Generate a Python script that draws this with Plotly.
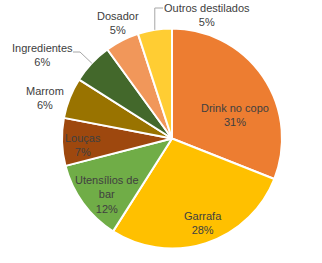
import math
import plotly.graph_objects as go

categories = ["Drink no copo", "Garrafa", "Utensílios de bar", "Louças", "Marrom",
              "Ingredientes", "Dosador", "Outros destilados"]
values = [31, 28, 12, 7, 6, 6, 5, 5]

colors = ["#ED7D31", "#FFC000", "#70AD47", "#9E480E", "#997300", "#43682B", "#F1975A", "#FFCD33"]
display_labels = ["Drink no copo", "Garrafa", "Utensílios de<br>bar", "Louças", "Marrom",
                  "Ingredientes", "Dosador", "Outros destilados"]
# label centre positions (pixels) - style only
label_pos = [(235, 115.5), (203, 222.5), (107, 194), (83, 144.5), (45, 97.5),
             (42, 55.5), (118, 22.5), (207, 15)]

W, H = 322, 263
CX, CY, R = 172, 138.5, 110


def px(x):
    return x / W


def py(y):
    return 1 - y / H


fig = go.Figure(go.Pie(
    labels=categories, values=values, sort=False, direction="clockwise", rotation=0,
    marker=dict(colors=colors, line=dict(color="white", width=2)),
    textinfo="none", hoverinfo="label+percent",
    domain=dict(x=[px(CX - R), px(CX + R)], y=[py(CY + R), py(CY - R)]),
))

total = sum(values)
annotations = []
for lab, v, (lx, ly) in zip(display_labels, values, label_pos):
    annotations.append(dict(
        x=px(lx), y=py(ly), xref="paper", yref="paper", showarrow=False,
        text=f"{lab}<br>{round(100 * v / total)}%", xanchor="center", yanchor="middle",
        font=dict(family="Liberation Sans, Arial, sans-serif", size=11, color="#404040"),
    ))

# leader lines from slice edge (mid angle) for two outside labels
cum = 0
mids = []
for v in values:
    mids.append((cum + v / 2) / total * 360)
    cum += v


def edge(i):
    t = math.radians(mids[i])
    return CX + R * math.sin(t), CY - R * math.cos(t)


shapes = []
ex, ey = edge(7)
shapes.append(dict(type="path", xref="paper", yref="paper",
                   path=f"M {px(ex)} {py(ey)} L {px(ex)} {py(8)} L {px(163)} {py(8)}",
                   line=dict(color="#A6A6A6", width=1)))
ex, ey = edge(5)
shapes.append(dict(type="path", xref="paper", yref="paper",
                   path=f"M {px(ex)} {py(ey)} L {px(80)} {py(52)} L {px(73)} {py(52)}",
                   line=dict(color="#A6A6A6", width=1)))

fig.update_layout(
    width=W, height=H, margin=dict(l=0, r=0, t=0, b=0),
    paper_bgcolor="white", plot_bgcolor="white", showlegend=False,
    annotations=annotations, shapes=shapes,
)
fig.write_html("out.html")
